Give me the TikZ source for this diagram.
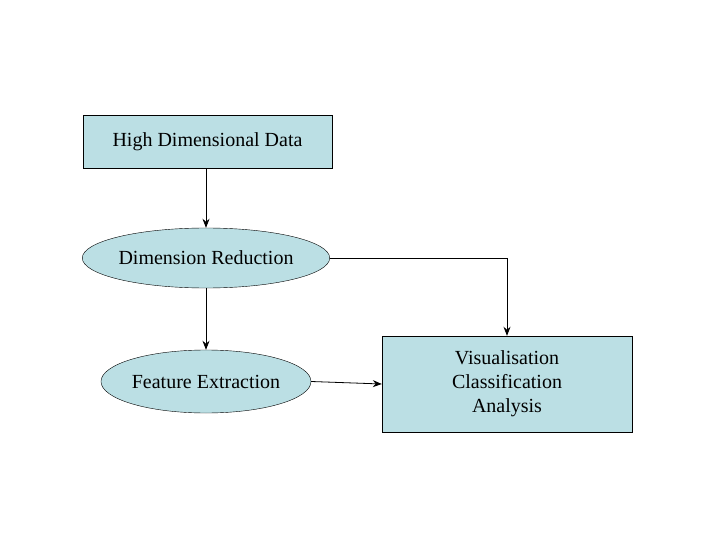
\documentclass[tikz,border=0pt]{standalone}
\usepackage{fontspec}
\setmainfont{Liberation Serif}
\usetikzlibrary{shapes.geometric,arrows.meta}
\definecolor{boxfill}{HTML}{BBDFE4}
\begin{document}
\begin{tikzpicture}[x=1pt,y=-1pt,
  every node/.style={font=\fontsize{20}{24}\selectfont},
  rbox/.style={draw,fill=boxfill,inner sep=0pt},
  ell/.style={draw,ellipse,fill=boxfill,inner sep=0pt},
  arr/.style={-{Stealth[length=9pt,width=7pt]},thick}]
\useasboundingbox (0,0) rectangle (720,540);
\node[rbox,minimum width=249pt,minimum height=53pt] (hd) at (207.5,141.5) {High Dimensional Data};
\node[ell,minimum width=214pt,minimum height=60pt] (dr) at (206,258) {Dimension Reduction};
\node[ell,minimum width=210pt,minimum height=63pt] (fe) at (206,381.5) {Feature Extraction};
\node[rbox,minimum width=250pt,minimum height=96pt,align=center] (vc) at (507,384) {Visualisation\\Classification\\Analysis};
\draw[arr] (hd.south -| dr.north) -- (dr.north);
\draw[arr] (dr.south) -- (fe.north);
\draw[arr] (dr.east) -| (vc.north);
\draw[arr] (fe.east) -- (vc.west);
\end{tikzpicture}
\end{document}
